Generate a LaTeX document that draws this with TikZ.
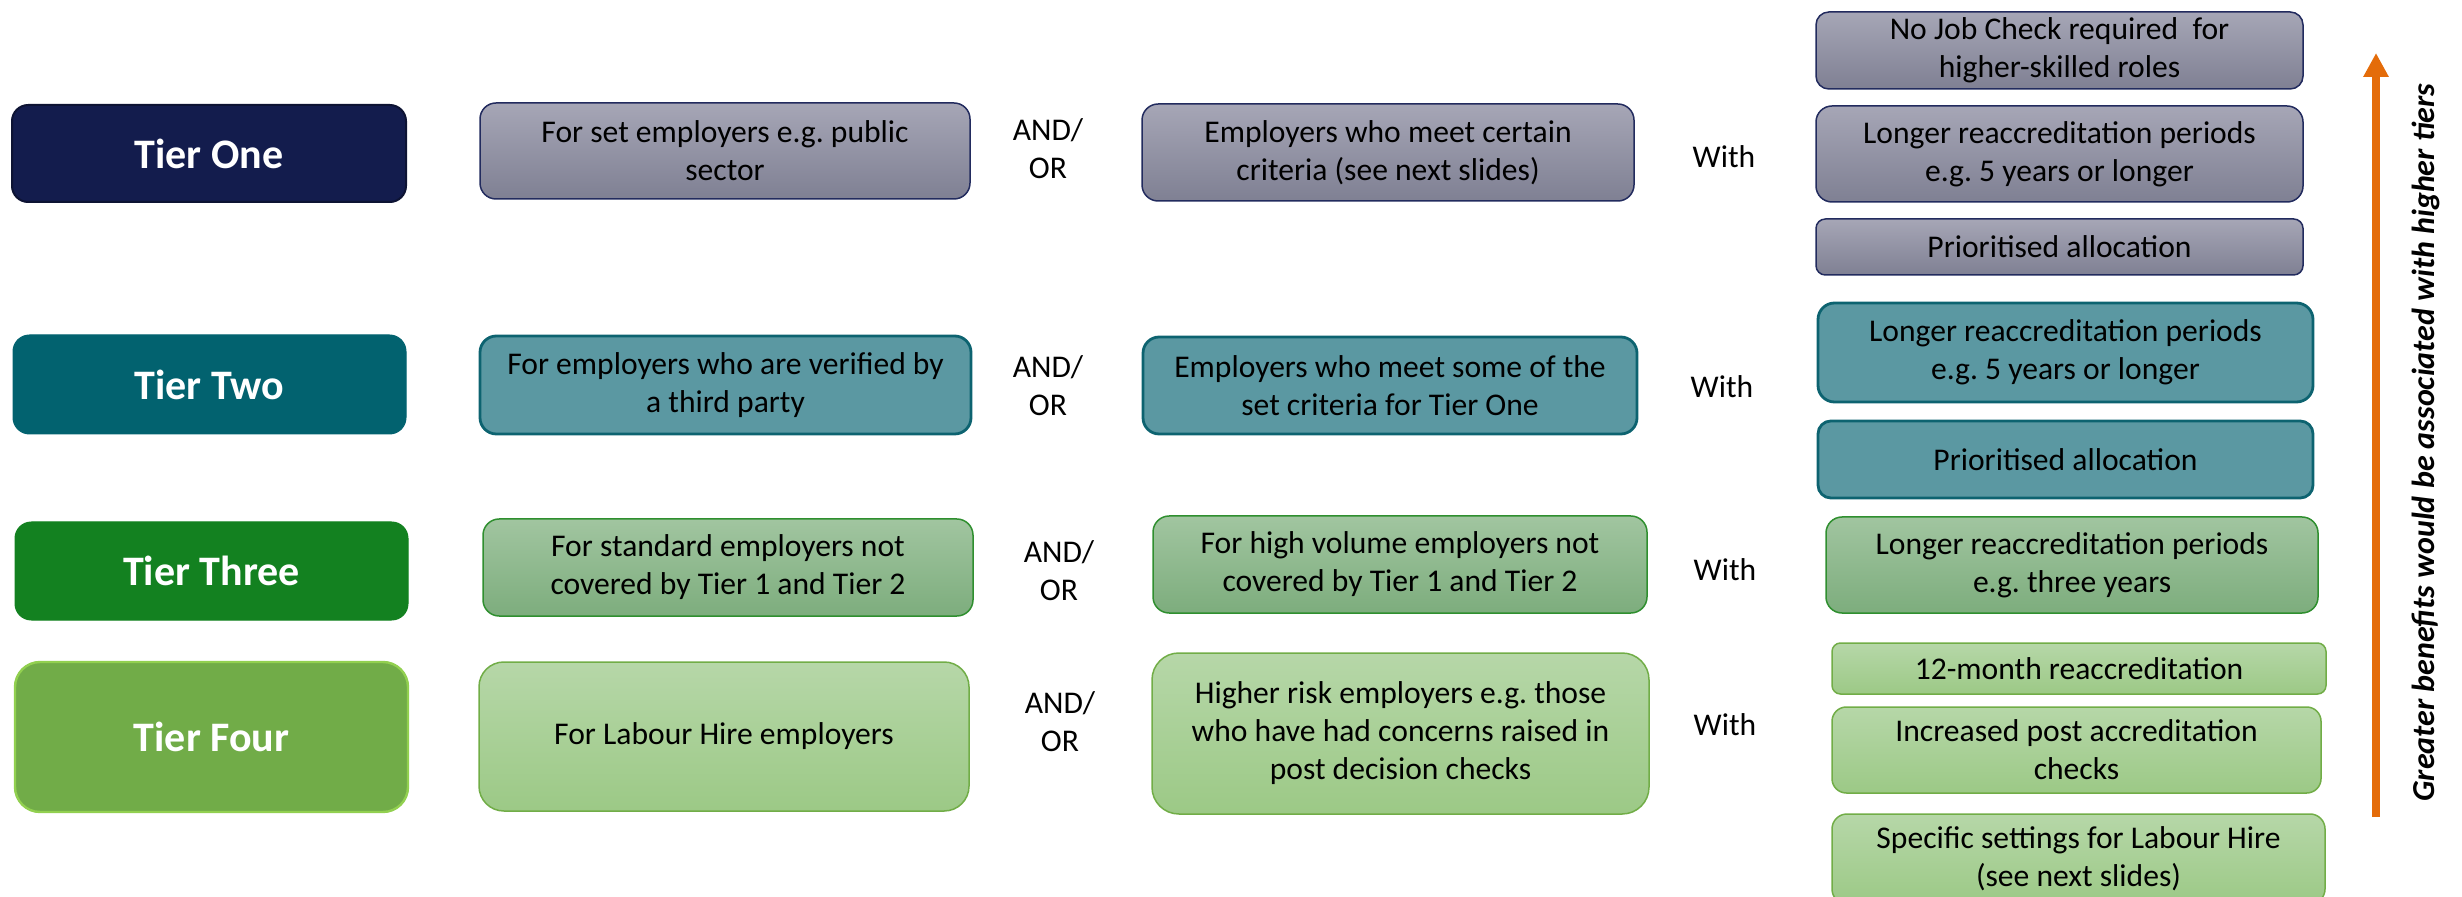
\documentclass[tikz,border=0pt]{standalone}
\usepackage{fontspec}
\setmainfont{Carlito}
\usetikzlibrary{arrows.meta}

\definecolor{navy}{HTML}{131C4D}
\definecolor{navyline}{HTML}{0D1333}
\definecolor{greytop}{HTML}{A6A6B6}
\definecolor{greybot}{HTML}{7F8093}
\definecolor{greyline}{HTML}{222B5E}
\definecolor{tealdark}{HTML}{02626F}
\definecolor{tealfill}{HTML}{5B98A2}
\definecolor{tealline}{HTML}{0D6370}
\definecolor{greendark}{HTML}{138120}
\definecolor{midgreentop}{HTML}{A1C5A0}
\definecolor{midgreenbot}{HTML}{7DAD7D}
\definecolor{midgreenline}{HTML}{2F8F2F}
\definecolor{leaf}{HTML}{71AC48}
\definecolor{leafline}{HTML}{92D050}
\definecolor{palegreentop}{HTML}{B6D7A8}
\definecolor{palegreenbot}{HTML}{9CC986}
\definecolor{palegreenline}{HTML}{71AD47}
\definecolor{benefit}{HTML}{E46C0A}

\tikzset{
  % size in pixels of the slide, corner radius one sixth of the height
  sz/.style n args={2}{minimum width=#1*0.5pt, minimum height=#2*0.5pt,
    rounded corners=#2*0.0833pt},
  cell/.style={align=center, inner sep=0pt, text=black,
    font=\fontsize{15.8}{19}\selectfont},
  tierbox/.style={cell, text=white, font=\bfseries\fontsize{21}{25}\selectfont},
  tierone/.style={tierbox, fill=navy, draw=navyline, line width=1pt},
  tiertwo/.style={tierbox, fill=tealdark, draw=tealdark, line width=0.5pt},
  tierthree/.style={tierbox, fill=greendark, draw=greendark, line width=0.5pt},
  tierfour/.style={tierbox, fill=leaf, draw=leafline, line width=1.2pt},
  greybox/.style={cell, top color=greytop, bottom color=greybot, draw=greyline, line width=0.75pt},
  tealbox/.style={cell, fill=tealfill, draw=tealline, line width=1.4pt},
  midgreenbox/.style={cell, top color=midgreentop, bottom color=midgreenbot, draw=midgreenline, line width=0.75pt},
  palegreenbox/.style={cell, top color=palegreentop, bottom color=palegreenbot, draw=palegreenline, line width=0.75pt},
  joiner/.style={cell},
}

\begin{document}
\frenchspacing
\begin{tikzpicture}[x=0.5pt, y=-0.5pt]
\useasboundingbox (0,0) rectangle (2462,897);

% ---- Tier One ----
\node[tierone, sz={394}{97}] (t1) at (209,153.5) {Tier One};
\node[greybox, sz={490}{96}] (a1) at (725,151) {For set employers e.g. public\\sector};
\node[joiner] (ao1) at (1048,149) {AND/\\OR};
\node[greybox, sz={492}{97}] (b1) at (1388,152.5) {Employers who meet certain\\criteria (see next slides)};
\node[joiner] (w1) at (1724,157) {With};
\node[greybox, sz={487}{77}] (r1a) at (2059.5,50.5) {No Job Check required\ \ for\\higher-skilled roles};
\node[greybox, sz={487}{96}] (r1b) at (2059.5,154) {Longer reaccreditation periods\\e.g. 5 years or longer};
\node[greybox, sz={487}{56}] (r1c) at (2059.5,247) {Prioritised allocation};

% ---- Tier Two ----
\node[tiertwo, sz={393}{99}] (t2) at (209.5,384.5) {Tier Two};
\node[tealbox, sz={491}{98}] (a2) at (725.5,385) {For employers who are verified by\\a third party};
\node[joiner] (ao2) at (1048,386) {AND/\\OR};
\node[tealbox, sz={494}{97}] (b2) at (1390,385.5) {Employers who meet some of the\\set criteria for Tier One};
\node[joiner] (w2) at (1722,387) {With};
\node[tealbox, sz={495}{99}] (r2a) at (2065.5,352.5) {Longer reaccreditation periods\\e.g. 5 years or longer};
\node[tealbox, sz={495}{77}] (r2b) at (2065.5,459.5) {Prioritised allocation};

% ---- Tier Three ----
\node[tierthree, sz={393}{98}] (t3) at (211.5,571) {Tier Three};
\node[midgreenbox, sz={490}{97}] (a3) at (728,567.5) {For standard employers not\\covered by Tier 1 and Tier 2};
\node[joiner] (ao3) at (1059,571) {AND/\\OR};
\node[midgreenbox, sz={494}{97}] (b3) at (1400,564.5) {For high volume employers not\\covered by Tier 1 and Tier 2};
\node[joiner] (w3) at (1725,570) {With};
\node[midgreenbox, sz={492}{96}] (r3) at (2072,565) {Longer reaccreditation periods\\e.g. three years};

% ---- Tier Four ----
\node[tierfour, sz={393}{150}] (t4) at (211.5,737) {Tier Four};
\node[palegreenbox, sz={490}{149}] (a4) at (724,736.5) {For Labour Hire employers};
\node[joiner] (ao4) at (1060,722) {AND/\\OR};
\node[palegreenbox, sz={497}{161}] (b4) at (1400.5,733.5) {Higher risk employers e.g. those\\who have had concerns raised in\\post decision checks};
\node[joiner] (w4) at (1725,725) {With};
\node[palegreenbox, sz={494}{51}] (r4a) at (2079,668.5) {12-month reaccreditation};
\node[palegreenbox, sz={489}{86}] (r4b) at (2076.5,750) {Increased post accreditation\\checks};
\node[palegreenbox, sz={493}{90}] (r4c) at (2078.5,859) {Specific settings for Labour Hire\\(see next slides)};

% ---- benefit arrow ----
\coordinate (arrowbase) at (2376,817);
\coordinate (arrowtip) at (2376,53);
\draw[benefit, line width=4pt, -{Triangle[length=12pt, width=12pt]}] (arrowbase) -- (arrowtip);
\node[rotate=90, inner sep=0pt, font=\bfseries\itshape\fontsize{16}{19}\selectfont] (note) at (2426,442.5)
  {Greater benefits would be associated with higher tiers};
\end{tikzpicture}
\end{document}
